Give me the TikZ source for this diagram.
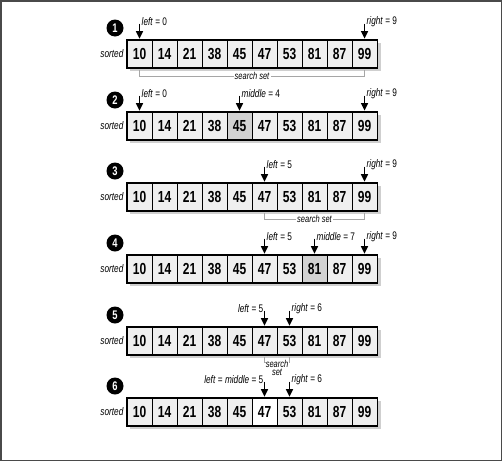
\documentclass[tikz,border=0pt]{standalone}
\usepackage{fontspec}
\setmainfont{Liberation Sans}[FakeStretch=0.75]
\usepackage{tikz}
\usetikzlibrary{arrows.meta, positioning, calc}
\definecolor{cellgray}{HTML}{EFEFEF}
\definecolor{midgray}{HTML}{D2D2D2}
\definecolor{shadowgray}{HTML}{CFCFCF}
\definecolor{framegray}{HTML}{4A4A4A}
\tikzstyle{cell} = [rectangle, draw=black, line width=0.8pt, minimum width=25pt, minimum height=27.5pt, inner sep=0pt, font=\fontsize{16}{16}\selectfont\bfseries]
\tikzstyle{badge} = [circle, fill=black, text=white, minimum size=17pt, inner sep=0pt, font=\fontsize{12.5}{12.5}\selectfont\bfseries]
\tikzstyle{tag} = [inner sep=0pt, font=\fontsize{11}{11}\selectfont\itshape]
\tikzstyle{varlabel} = [inner sep=0pt, font=\fontsize{11}{11}\selectfont]
\tikzstyle{settag} = [inner sep=1pt, align=center, font=\fontsize{10}{8.5}\selectfont\itshape]
\tikzstyle{pointer} = [line width=1.4pt, shorten >=1pt, -{Triangle[width=7pt,length=7.5pt]}]
\tikzstyle{bracket} = [draw=gray!70, line width=0.6pt]

\begin{document}
\begin{tikzpicture}[x=1pt, y=-1pt]
    \useasboundingbox (0,0) rectangle (502,461);
    \draw [framegray, line width=1.5pt] (0.75,0.75) rectangle (501.25,460.25);

    % the six arrays
    \foreach \r/\t/\h/\hc in {1/40/-1/cellgray, 2/112/4/midgray, 3/183/-1/cellgray, 4/255/7/midgray, 5/327/-1/cellgray, 6/398/5/white} {
        \fill [shadowgray] (130,\t+3) rectangle (380.5,\t+31);
        \foreach \v [count=\i from 0] in {10,14,21,38,45,47,53,81,87,99} {
            \ifnum\i=\h \def\fc{\hc}\else\def\fc{cellgray}\fi
            \node (s\r-\i) [cell, fill=\fc] at (139.5+25*\i, \t+13.75) {\v};
        }
        \draw [line width=1.5pt] (s\r-0.north west) rectangle (s\r-9.south east);
        \node (sorted\r) [tag, left=3pt of s\r-0] {sorted};
        \node (badge\r) [badge] at (115, \t-12) {\r};
    }

    % step 1
    \coordinate (a1l) at ([yshift=16pt]s1-0.north);
    \coordinate (a1r) at ([yshift=16pt]s1-9.north);
    \draw [pointer] (a1l) -- (s1-0.north);
    \draw [pointer] (a1r) -- (s1-9.north);
    \node (left1) [varlabel, right=2pt of a1l, yshift=2pt] {\textit{left} = 0};
    \node (right1) [varlabel, right=2pt of a1r, yshift=2pt] {\textit{right} = 9};
    \coordinate (m1) at ($(s1-0.south)!0.5!(s1-9.south)$);
    \node (set1) [settag, below=3.5pt of m1] {search set};
    \draw [bracket] ([yshift=-2pt]s1-0.south) |- (set1.west);
    \draw [bracket] ([yshift=-2pt]s1-9.south) |- (set1.east);

    % step 2
    \coordinate (a2l) at ([yshift=16pt]s2-0.north);
    \coordinate (a2m) at ([yshift=16pt]s2-4.north);
    \coordinate (a2r) at ([yshift=16pt]s2-9.north);
    \draw [pointer] (a2l) -- (s2-0.north);
    \draw [pointer] (a2m) -- (s2-4.north);
    \draw [pointer] (a2r) -- (s2-9.north);
    \node (left2) [varlabel, right=2pt of a2l, yshift=2pt] {\textit{left} = 0};
    \node (middle2) [varlabel, right=2pt of a2m, yshift=2pt] {\textit{middle} = 4};
    \node (right2) [varlabel, right=2pt of a2r, yshift=2pt] {\textit{right} = 9};

    % step 3
    \coordinate (a3l) at ([yshift=16pt]s3-5.north);
    \coordinate (a3r) at ([yshift=16pt]s3-9.north);
    \draw [pointer] (a3l) -- (s3-5.north);
    \draw [pointer] (a3r) -- (s3-9.north);
    \node (left3) [varlabel, right=2pt of a3l, yshift=2pt] {\textit{left} = 5};
    \node (right3) [varlabel, right=2pt of a3r, yshift=2pt] {\textit{right} = 9};
    \coordinate (m3) at ($(s3-5.south)!0.5!(s3-9.south)$);
    \node (set3) [settag, below=3.5pt of m3] {search set};
    \draw [bracket] ([yshift=-2pt]s3-5.south) |- (set3.west);
    \draw [bracket] ([yshift=-2pt]s3-9.south) |- (set3.east);

    % step 4
    \coordinate (a4l) at ([yshift=16pt]s4-5.north);
    \coordinate (a4m) at ([yshift=16pt]s4-7.north);
    \coordinate (a4r) at ([yshift=16pt]s4-9.north);
    \draw [pointer] (a4l) -- (s4-5.north);
    \draw [pointer] (a4m) -- (s4-7.north);
    \draw [pointer] (a4r) -- (s4-9.north);
    \node (left4) [varlabel, right=2pt of a4l, yshift=2pt] {\textit{left} = 5};
    \node (middle4) [varlabel, right=2pt of a4m, yshift=2pt] {\textit{middle} = 7};
    \node (right4) [varlabel, right=2pt of a4r, yshift=2pt] {\textit{right} = 9};

    % step 5
    \coordinate (a5l) at ([yshift=16pt]s5-5.north);
    \coordinate (a5r) at ([yshift=16pt]s5-6.north);
    \draw [pointer] (a5l) -- (s5-5.north);
    \draw [pointer] (a5r) -- (s5-6.north);
    \node (left5) [varlabel, left=1pt of a5l, yshift=2pt] {\textit{left} = 5};
    \node (right5) [varlabel, right=2pt of a5r, yshift=2pt] {\textit{right} = 6};
    \coordinate (m5) at ($(s5-5.south)!0.5!(s5-6.south)$);
    \node (set5) [settag, below=4pt of m5] {search\\set};
    \draw [bracket] ([yshift=-2pt]s5-5.south) |- ([yshift=-3pt]set5.north west);
    \draw [bracket] ([yshift=-2pt]s5-6.south) |- ([yshift=-3pt]set5.north east);

    % step 6
    \coordinate (a6l) at ([yshift=16pt]s6-5.north);
    \coordinate (a6r) at ([yshift=16pt]s6-6.north);
    \draw [pointer] (a6l) -- (s6-5.north);
    \draw [pointer] (a6r) -- (s6-6.north);
    \node (left6) [varlabel, left=1pt of a6l, yshift=2pt] {\textit{left} = \textit{middle} = 5};
    \node (right6) [varlabel, right=2pt of a6r, yshift=2pt] {\textit{right} = 6};
\end{tikzpicture}
\end{document}
